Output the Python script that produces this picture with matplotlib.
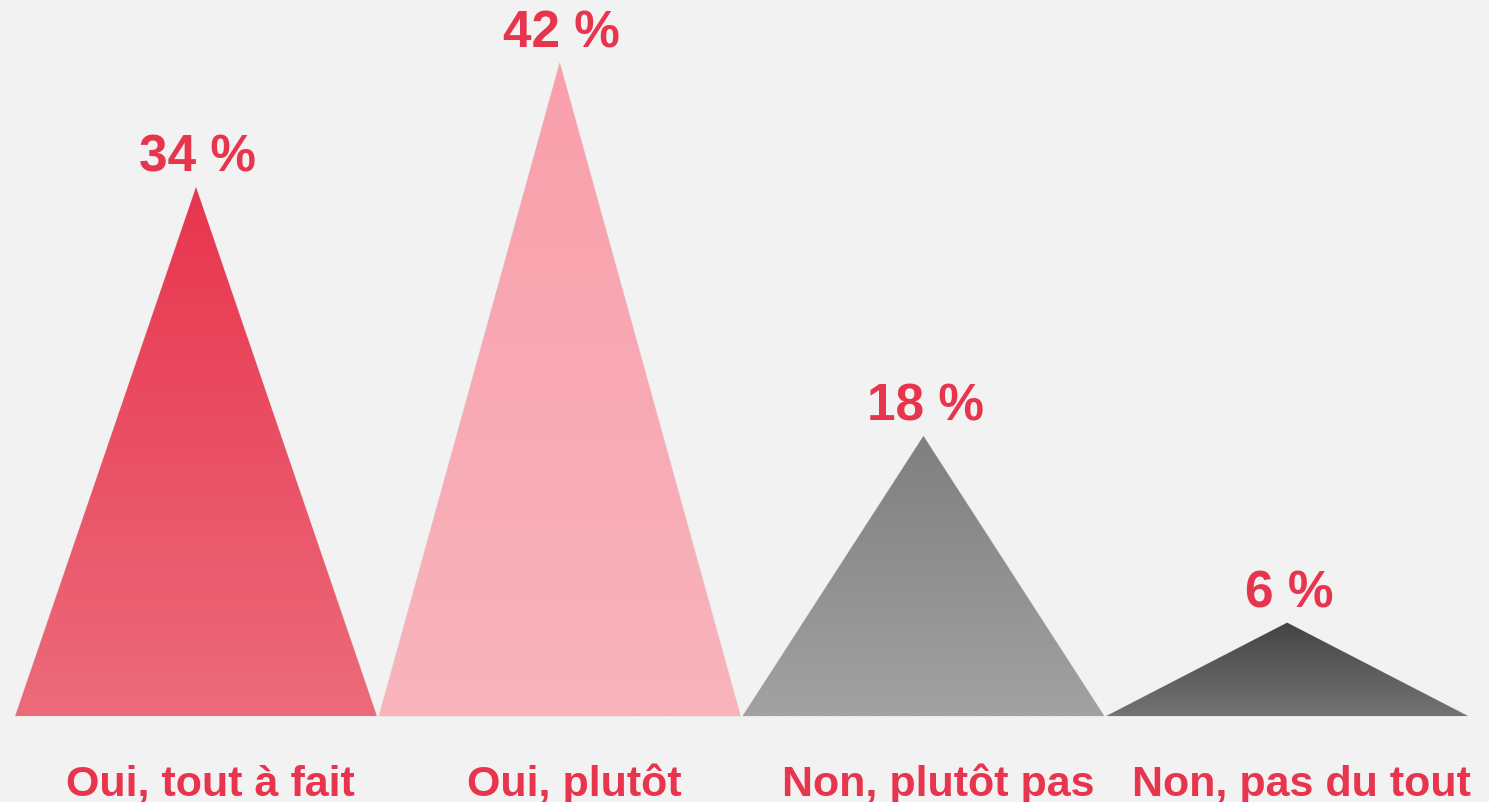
import numpy as np
import matplotlib
matplotlib.use("Agg")
import matplotlib.pyplot as plt
from matplotlib.patches import Polygon
from matplotlib.colors import LinearSegmentedColormap
from matplotlib import font_manager

categories = ["Oui, tout à fait", "Oui, plutôt", "Non, plutôt pas", "Non, pas du tout"]
values = [34, 42, 18, 6]
value_labels = ["34 %", "42 %", "18 %", "6 %"]
top_colors = ["#e8354e", "#f99fab", "#7f7f7f", "#444444"]
bottom_colors = ["#ec6b7b", "#f8b4bc", "#a2a2a2", "#737373"]

bg = "#f2f2f2"
red = "#e8354e"

names = {f.name for f in font_manager.fontManager.ttflist}
label_family = ["Liberation Sans Narrow"] if "Liberation Sans Narrow" in names else ["Liberation Sans"]

fig = plt.figure(figsize=(14.89, 8.03), dpi=100, facecolor=bg)
ax = fig.add_axes([0, 0, 1, 1])
ax.set_facecolor(bg)
ax.set_xlim(-0.539, 3.555)
ax.set_ylim(-5.53, 46.1)
ax.axis("off")

for i, (v, tc, bc) in enumerate(zip(values, top_colors, bottom_colors)):
    x0, x1 = i - 0.497, i + 0.497
    poly = Polygon([[x0, 0], [i, v], [x1, 0]], closed=True, facecolor="none",
                   edgecolor="#cfcfcf", lw=0.6, alpha=0.6)
    ax.add_patch(poly)
    cmap = LinearSegmentedColormap.from_list(f"g{i}", [bc, tc])
    grad = np.linspace(0, 1, 256).reshape(-1, 1)
    im = ax.imshow(grad, extent=[x0, x1, 0, v], origin="lower", cmap=cmap,
                   aspect="auto", interpolation="bilinear", zorder=2)
    clip = Polygon([[x0, 0], [i, v], [x1, 0]], closed=True, transform=ax.transData)
    im.set_clip_path(clip)
    ax.text(i + 0.005, v + 1.05, value_labels[i], ha="center", va="baseline",
            fontsize=37, fontweight="bold", color=red,
            family=["Liberation Sans", "DejaVu Sans"], zorder=3)
    ax.text(i + 0.04, -5.05, categories[i], ha="center", va="baseline",
            fontsize=31, fontweight="bold", color=red,
            family=label_family + ["DejaVu Sans"], zorder=3)

fig.savefig("out.png", dpi=100, facecolor=bg)
